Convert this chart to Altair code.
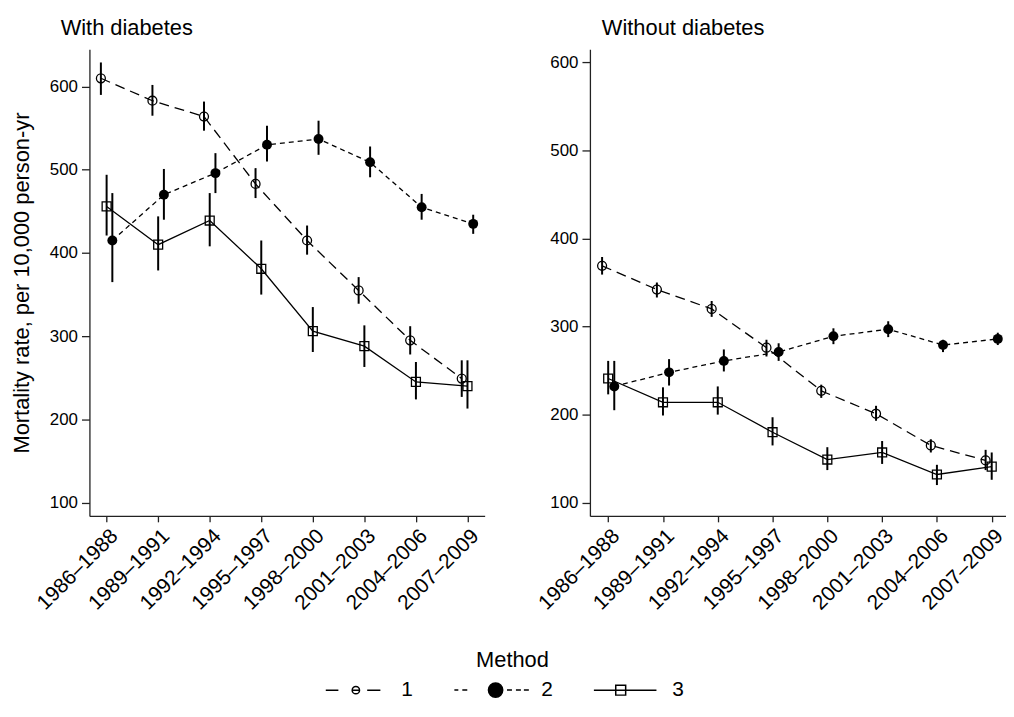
import altair as alt
import pandas as pd

FONT = "Liberation Sans"

periods = ["1986–1988", "1989–1991", "1992–1994", "1995–1997",
           "1998–2000", "2001–2003", "2004–2006", "2007–2009"]
methods = ["1", "2", "3"]

# With diabetes
with_m1 = [610, 583, 564, 483, 415, 355, 295, 249]
with_m1_lo = [590, 565, 547, 466, 398, 339, 278, 227]
with_m1_hi = [629, 602, 582, 502, 433, 371, 312, 271]
with_m2 = [415, 470, 496, 530, 537, 509, 455, 435]
with_m2_lo = [365, 440, 472, 510, 518, 491, 440, 423]
with_m2_hi = [472, 501, 520, 553, 559, 528, 471, 446]
with_m3 = [456, 410, 439, 381, 306, 288, 245, 240]
with_m3_lo = [421, 379, 408, 350, 281, 263, 224, 213]
with_m3_hi = [494, 444, 472, 415, 335, 313, 269, 271]

# Without diabetes
wo_m1 = [369, 342, 320, 276, 227, 201, 165, 148]
wo_m1_lo = [359, 333, 311, 266, 219, 193, 157, 137]
wo_m1_hi = [379, 350, 329, 285, 234, 210, 172, 160]
wo_m2 = [232, 248, 261, 271, 289, 297, 279, 286]
wo_m2_lo = [205, 233, 249, 261, 280, 288, 271, 279]
wo_m2_hi = [261, 263, 274, 281, 298, 306, 285, 293]
wo_m3 = [241, 214, 214, 180, 149, 157, 132, 141]
wo_m3_lo = [223, 199, 200, 165, 137, 144, 120, 126]
wo_m3_hi = [261, 231, 232, 197, 163, 170, 143, 157]

y_ticks = [100, 200, 300, 400, 500, 600]
end_years = [int(p[-4:]) for p in periods]
dodge = {"1": -1 / 3, "2": 1 / 3, "3": 0.0}

label_expr = ("[" + ",".join("'" + p + "'" for p in periods) + "][indexof(["
              + ",".join(str(v) for v in end_years) + "], datum.value)]")


def build(series):
    rows = []
    for m, (est, lo, hi) in zip(methods, series):
        for p, e, l, h in zip(periods, est, lo, hi):
            rows.append(dict(period=p, method=m, x=int(p[-4:]) + dodge[m],
                             est=e, lo=l, hi=h))
    return pd.DataFrame(rows)


df_with = build([(with_m1, with_m1_lo, with_m1_hi),
                 (with_m2, with_m2_lo, with_m2_hi),
                 (with_m3, with_m3_lo, with_m3_hi)])
df_wo = build([(wo_m1, wo_m1_lo, wo_m1_hi),
               (wo_m2, wo_m2_lo, wo_m2_hi),
               (wo_m3, wo_m3_lo, wo_m3_hi)])

legend_paths = [
    "M-2.7,0H-1.43M1.47,0H2.8"
    "M-0.04,0A0.37,0.37,0,1,0,0.70,0A0.37,0.37,0,1,0,-0.04,0ZM-0.04,0H0.70",
    "M-3.85,0H-3.45M-3.05,0H-2.55M1.45,0H1.95M2.35,0H2.85M3.15,0H3.65"
    "M-0.42,0A0.72,0.72,0,1,0,1.02,0A0.72,0.72,0,1,0,-0.42,0Z",
    "M-3.0,0H3.3M-0.8,-0.5H0.2V0.5H-0.8Z",
]
legend_fills = ["transparent", "black", "transparent"]


def make_legend():
    return alt.Legend(
        orient="none", legendX=254, legendY=605, direction="horizontal",
        title="Method", titleFontSize=22, titleFont=FONT, titleFontWeight="normal",
        titleColor="black", titleAnchor="middle", titlePadding=7,
        labelFontSize=21, labelFont=FONT, labelColor="black", labelOffset=38,
        columnPadding=38, symbolSize=400, symbolStrokeWidth=1.5,
        symbolStrokeColor="black", symbolFillColor="transparent", padding=0,
    )


def panel(df, ydom, xdom, width, title, dx, ytitle, with_legend):
    xenc = alt.X("x:Q", scale=alt.Scale(domain=xdom, nice=False, zero=False),
                 axis=alt.Axis(values=end_years, labelExpr=label_expr, labelAngle=-45,
                               labelAlign="right", labelBaseline="top",
                               title=None, grid=False, labelPadding=3, tickSize=6,
                               labelFontSize=21, labelOverlap=False))
    yaxis = alt.Axis(values=y_ticks, title=ytitle, grid=False, titlePadding=16,
                     titleFontSize=22, titleFont=FONT, titleFontWeight="normal",
                     titleColor="black", tickSize=8, labelPadding=4, labelFontSize=17)
    yscale = alt.Scale(domain=ydom, nice=False, zero=False)
    base = alt.Chart(df)
    layers = [
        base.mark_rule(color="black", strokeWidth=2).encode(
            x=xenc, y=alt.Y("lo:Q", scale=yscale, axis=yaxis), y2="hi:Q")
    ]
    dashes = {"1": [10, 6], "2": [5, 4]}
    for m in methods:
        kw = dict(color="black", strokeWidth=1.3)
        if m in dashes:
            kw["strokeDash"] = dashes[m]
        layers.append(base.transform_filter(alt.datum.method == m)
                      .mark_line(**kw)
                      .encode(x=xenc, y=alt.Y("est:Q", scale=yscale, axis=yaxis)))
    point_styles = {
        "1": dict(shape="circle", filled=False, size=81, strokeWidth=1.3),
        "2": dict(shape="circle", filled=True, size=100),
        "3": dict(shape="square", filled=False, size=81, strokeWidth=1.3),
    }
    for m in methods:
        layers.append(base.transform_filter(alt.datum.method == m)
                      .mark_point(color="black", opacity=1, **point_styles[m])
                      .encode(x=xenc, y=alt.Y("est:Q", scale=yscale, axis=yaxis)))
    if with_legend:
        layers.append(
            alt.Chart(pd.DataFrame({"method": methods}))
            .transform_filter("false")
            .mark_point(color="black", filled=False, opacity=1, strokeWidth=1.5)
            .encode(
                shape=alt.Shape("method:N",
                                scale=alt.Scale(domain=methods, range=legend_paths),
                                legend=make_legend()),
                fill=alt.Fill("method:N",
                              scale=alt.Scale(domain=methods, range=legend_fills),
                              legend=make_legend()),
            )
        )
    return alt.layer(*layers).properties(
        width=width, height=470,
        title=alt.Title(title, anchor="start", frame="group", dx=dx, fontSize=22,
                        font=FONT, fontWeight="normal", color="black", offset=9),
    )


left = panel(df_with, [84, 645], [1987, 2010], 398, "With diabetes", -29,
             "Mortality rate, per 10,000 person-yr", True)
right = panel(df_wo, [85, 615], [1987, 2010], 423, "Without diabetes", 12,
              None, False)

chart = alt.hconcat(left, right, spacing=50).properties(
    padding={"left": 2, "top": 7, "right": -4, "bottom": 2}
).configure_view(stroke=None).configure_axis(
    labelFont=FONT, labelColor="black",
    domainColor="#222222", tickColor="#222222", domainWidth=1.3, tickWidth=1.3,
)

chart.save("out.html", embed_options={"renderer": "svg", "actions": False})
